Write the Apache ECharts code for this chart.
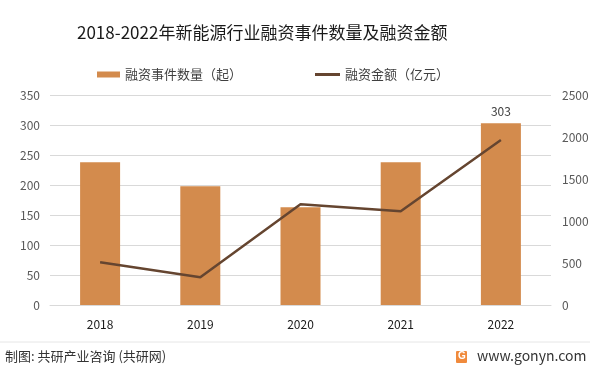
<!DOCTYPE html>
<html>
<head>
<meta charset="utf-8">
<script src="https://cdn.jsdelivr.net/npm/echarts@6/dist/echarts.min.js"></script>
<style>html,body{margin:0;padding:0;background:#fff;}#c{width:596px;height:372px;}</style>
</head>
<body>
<div id="c"></div>
<script>
var categories = ['2018', '2019', '2020', '2021', '2022'];
var eventCounts = [238, 198, 163, 238, 303];
var amounts = [508, 330, 1200, 1115, 1964];
var leftTicks = {min: 0, max: 350, interval: 50};
var rightTicks = {min: 0, max: 2500, interval: 500};

var chart = echarts.init(document.getElementById('c'), null, {renderer: 'canvas'});
var FONT = '"Noto Sans CJK SC", "Noto Sans", sans-serif';
chart.setOption({
  animation: false,
  backgroundColor: '#ffffff',
  title: {
    text: '2018-2022年新能源行业融资事件数量及融资金额',
    left: 72, top: 19,
    textStyle: {fontSize: 17, fontWeight: 'normal', color: '#1a1a1a', fontFamily: FONT}
  },
  legend: [
    {data: [{name: '融资事件数量（起）', icon: 'rect'}], left: 92, top: 63, itemWidth: 23, itemHeight: 6,
     textStyle: {fontSize: 13, color: '#404040', fontFamily: FONT}},
    {data: [{name: '融资金额（亿元）', icon: 'rect'}], left: 310, top: 63, itemWidth: 25, itemHeight: 3,
     textStyle: {fontSize: 13, color: '#404040', fontFamily: FONT}}
  ],
  grid: {left: 50, right: 45, top: 95, bottom: 67},
  xAxis: {
    type: 'category', data: categories,
    axisLine: {show: true, lineStyle: {color: '#d9d9d9'}},
    axisTick: {show: false},
    axisLabel: {color: '#1a1a1a', fontSize: 12, margin: 13, fontFamily: FONT}
  },
  yAxis: [
    {type: 'value', min: leftTicks.min, max: leftTicks.max, interval: leftTicks.interval,
     axisLine: {show: false}, axisTick: {show: false},
     splitLine: {lineStyle: {color: '#d9d9d9'}},
     axisLabel: {color: '#595959', fontSize: 12, margin: 10, fontFamily: FONT}},
    {type: 'value', min: rightTicks.min, max: rightTicks.max, interval: rightTicks.interval,
     axisLine: {show: false}, axisTick: {show: false},
     splitLine: {show: false},
     axisLabel: {color: '#595959', fontSize: 12, margin: 11, fontFamily: FONT,
       formatter: function (v) { return String(v); }}}
  ],
  series: [
    {name: '融资事件数量（起）', type: 'bar', data: eventCounts, barWidth: 40,
     itemStyle: {color: '#d38b4d'},
     label: {show: true, position: 'top', distance: 6, color: '#404040', fontSize: 12, fontFamily: FONT,
       formatter: function (p) { return p.dataIndex === eventCounts.length - 1 ? String(p.value) : ''; }}},
    {name: '融资金额（亿元）', type: 'line', yAxisIndex: 1, data: amounts,
     symbol: 'none', lineStyle: {color: '#654530', width: 2.5}, itemStyle: {color: '#654530'}}
  ],
  graphic: [
    {type: 'line', shape: {x1: 0, y1: 342, x2: 590, y2: 342}, style: {stroke: '#e6e6e6', lineWidth: 1}},
    {type: 'text', left: 5, top: 350, style: {text: '制图: 共研产业咨询 (共研网)', fill: '#333', font: '13px ' + FONT}},
    {type: 'rect', shape: {x: 456, y: 351, width: 11, height: 12, r: 1}, style: {fill: '#f08a3c'}},
    {type: 'text', left: 458, top: 351, style: {text: 'G', fill: '#fff', font: 'bold 10px sans-serif'}},
    {type: 'text', left: 477, top: 349, style: {text: 'www.gonyn.com', fill: '#333', font: '14px ' + FONT}}
  ]
});
</script>
</body>
</html>
